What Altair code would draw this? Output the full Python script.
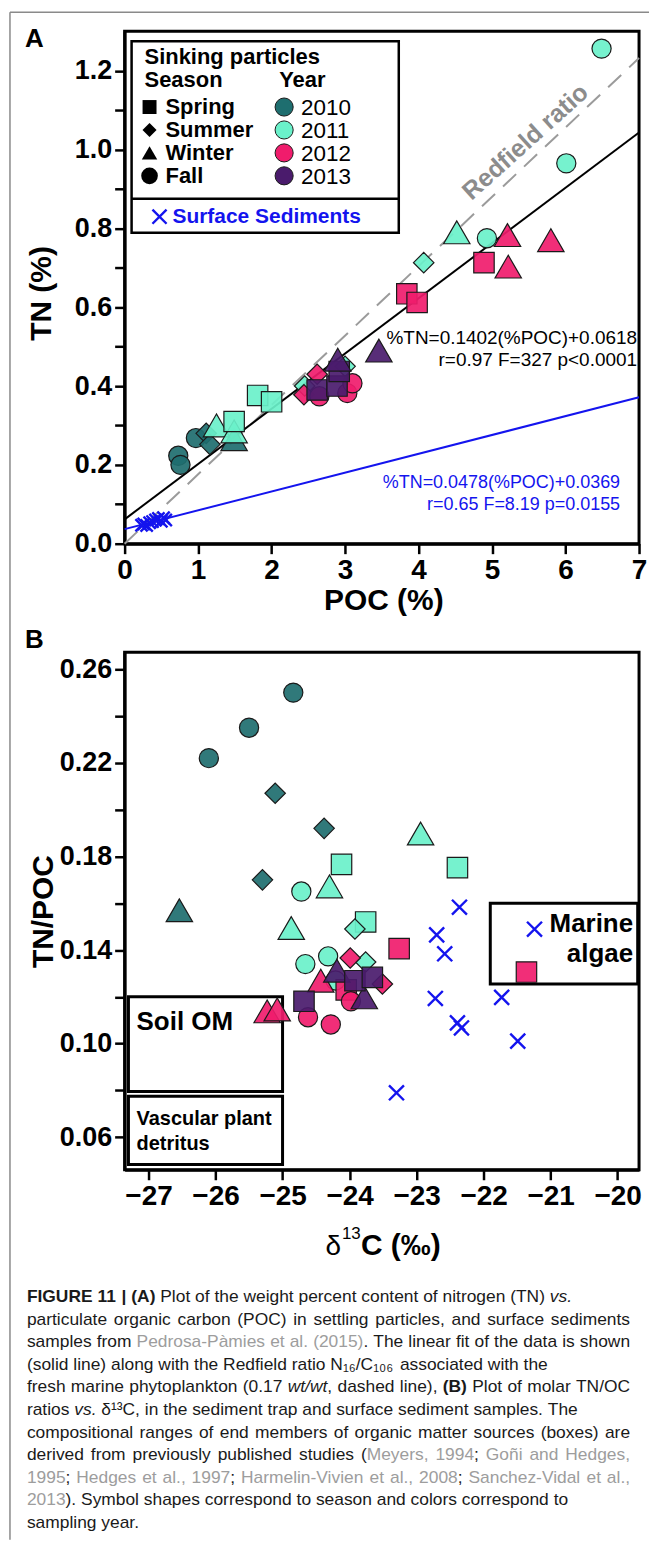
import re
import altair as alt
import pandas as pd

FONT = "Liberation Sans"

# ---------------- shared categories / styles ----------------
YEARS = ["2010", "2011", "2012", "2013"]
SEASONS = ["Spring", "Summer", "Winter", "Fall"]
YEAR_COLORS = ["#1e6e6f", "#6af1ca", "#f01c6c", "#4a1b6c"]
SEASON_SHAPES = ["square", "diamond", "triangle-up", "circle"]
SED_BLUE = "#1414ee"
X_PATH = "M-1,-1L1,1M-1,1L1,-1"
SIZE_EXPR = "datum.season == 'Winter' ? 700 : (datum.season == 'Fall' ? 370 : 420)"

# ---------------- Panel A : POC (%) vs TN (%) ----------------
A_2010_SEASON = ["Fall", "Fall", "Fall", "Summer", "Summer", "Winter"]
A_2010_POC = [0.73, 0.76, 0.97, 1.11, 1.16, 1.49]
A_2010_TN = [0.223, 0.200, 0.268, 0.280, 0.252, 0.265]

A_2011_SEASON = ["Winter", "Winter", "Spring", "Spring", "Spring", "Summer",
                 "Summer", "Summer", "Winter", "Fall", "Fall", "Fall"]
A_2011_POC = [1.25, 1.49, 1.49, 1.81, 2.00, 2.45, 3.00, 4.07, 4.52, 4.93, 6.01, 6.49]
A_2011_TN = [0.300, 0.285, 0.310, 0.376, 0.360, 0.400, 0.450, 0.713, 0.790, 0.775, 0.965, 1.256]

A_2012_SEASON = ["Summer", "Summer", "Fall", "Fall", "Fall", "Spring", "Spring",
                 "Spring", "Winter", "Winter", "Winter"]
A_2012_POC = [2.44, 2.62, 2.65, 3.03, 3.10, 3.84, 3.98, 4.89, 5.22, 5.21, 5.80]
A_2012_TN = [0.378, 0.430, 0.374, 0.382, 0.407, 0.634, 0.612, 0.713, 0.703, 0.783, 0.770]

A_2013_SEASON = ["Spring", "Spring", "Spring", "Winter", "Winter"]
A_2013_POC = [2.62, 2.89, 2.92, 2.90, 3.46]
A_2013_TN = [0.390, 0.400, 0.437, 0.467, 0.490]

A_SED_POC = [0.23, 0.26, 0.30, 0.34, 0.38, 0.42, 0.46, 0.50, 0.53, 0.56]
A_SED_TN = [0.047, 0.050, 0.046, 0.053, 0.056, 0.060, 0.064, 0.057, 0.066, 0.060]

FIT_POC_RANGE = [0, 7]
SINK_SLOPE, SINK_INTERCEPT = 0.1402, 0.0618
SED_SLOPE, SED_INTERCEPT = 0.0478, 0.0369
REDFIELD_SLOPE = 0.176

A_X_TICKS = [0, 1, 2, 3, 4, 5, 6, 7]
A_Y_TICKS = [0.0, 0.1, 0.2, 0.3, 0.4, 0.5, 0.6, 0.7, 0.8, 0.9, 1.0, 1.1, 1.2]

# ---------------- Panel B : d13C vs TN/POC ----------------
B_2010_SEASON = ["Fall", "Fall", "Fall", "Summer", "Summer", "Summer", "Winter"]
B_2010_D13C = [-24.84, -25.50, -26.10, -25.11, -24.38, -25.30, -26.54]
B_2010_TNPOC = [0.250, 0.235, 0.222, 0.207, 0.192, 0.170, 0.157]

B_2011_SEASON = ["Spring", "Spring", "Spring", "Fall", "Fall", "Fall", "Fall",
                 "Winter", "Winter", "Winter", "Summer", "Summer"]
B_2011_D13C = [-24.12, -22.39, -23.76, -24.72, -24.66, -24.32, -24.21,
               -24.30, -24.87, -22.94, -23.92, -23.76]
B_2011_TNPOC = [0.1766, 0.1752, 0.1520, 0.1650, 0.1340, 0.1373, 0.1270,
                0.1672, 0.1494, 0.1898, 0.1490, 0.1349]

B_2012_SEASON = ["Spring", "Spring", "Spring", "Summer", "Summer", "Winter",
                 "Winter", "Winter", "Fall", "Fall", "Fall"]
B_2012_D13C = [-23.26, -21.36, -24.05, -23.99, -23.51, -24.43, -25.23, -25.08,
               -23.98, -24.62, -24.28]
B_2012_TNPOC = [0.1406, 0.1306, 0.1230, 0.1366, 0.1255, 0.1269, 0.1138, 0.1146,
                0.1181, 0.1113, 0.1082]

B_2013_SEASON = ["Winter", "Winter", "Spring", "Spring", "Spring"]
B_2013_D13C = [-24.19, -23.78, -23.92, -23.66, -24.68]
B_2013_TNPOC = [0.1312, 0.1198, 0.1269, 0.1283, 0.1181]

B_SED_D13C = [-22.36, -22.70, -22.58, -21.24, -22.72, -21.73, -22.39, -22.33, -21.49, -23.30]
B_SED_TNPOC = [0.1583, 0.1465, 0.1384, 0.1489, 0.1193, 0.1198, 0.1089, 0.1067, 0.1011, 0.0790]

BOX_NAMES = ["Soil OM", "Vascular plant detritus", "Marine algae"]
BOX_D13C_MIN = [-27.30, -27.30, -21.90]
BOX_D13C_MAX = [-25.00, -25.00, -19.70]
BOX_TNPOC_MIN = [0.0795, 0.0484, 0.1255]
BOX_TNPOC_MAX = [0.1200, 0.0775, 0.1600]

B_X_TICKS = [-27, -26, -25, -24, -23, -22, -21, -20]
B_Y_TICKS = [0.06, 0.08, 0.10, 0.12, 0.14, 0.16, 0.18, 0.20, 0.22, 0.24, 0.26]

# ---------------- caption ----------------
CAPTION = [
    ([("FIGURE 11 | (A)", "b"), (" Plot of the weight percent content of nitrogen (TN) ", "r"), ("vs.", "i")], False),
    ([("particulate organic carbon (POC) in settling particles, and surface sediments", "r")], True),
    ([("samples from ", "r"), ("Pedrosa-Pàmies et al. (2015)", "g"), (". The linear fit of the data is shown", "r")], True),
    ([("(solid line) along with the Redfield ratio N₁₆/C₁₀₆ associated with the", "r")], False),
    ([("fresh marine phytoplankton (0.17 ", "r"), ("wt/wt", "i"), (", dashed line), ", "r"), ("(B)", "b"),
      (" Plot of molar TN/OC", "r")], True),
    ([("ratios ", "r"), ("vs.", "i"), (" δ¹³C, in the sediment trap and surface sediment samples. The", "r")], False),
    ([("compositional ranges of end members of organic matter sources (boxes) are", "r")], True),
    ([("derived from previously published studies (", "r"), ("Meyers, 1994", "g"), ("; ", "r"),
      ("Goñi and Hedges,", "g")], True),
    ([("1995", "g"), ("; ", "r"), ("Hedges et al., 1997", "g"), ("; ", "r"), ("Harmelin-Vivien et al., 2008", "g"),
      ("; ", "r"), ("Sanchez-Vidal et al.,", "g")], True),
    ([("2013", "g"), ("). Symbol shapes correspond to season and colors correspond to", "r")], False),
    ([("sampling year.", "r")], False),
]

# ================= helpers =================
ONE = pd.DataFrame({"k": [0]})


def pts(year, seasons, xs, ys, xn, yn):
    return pd.DataFrame({xn: xs, yn: ys, "season": seasons, "year": year})


def axis(values, fmt, size, label_expr=None):
    kw = dict(values=values, format=fmt, title=None, grid=False, labelFont=FONT, labelFontSize=size,
              labelFontWeight="bold", labelColor="black", labelPadding=3, labelFlush=False,
              labelOverlap=False, tickSize=10, tickWidth=2.5, tickColor="black",
              domainColor="black", domainWidth=3)
    if label_expr:
        kw["labelExpr"] = label_expr
    return alt.Axis(**kw)


def text(t, x, y, size, bold=False, color="black", align="left", baseline="middle", angle=None,
         italic=False):
    kw = dict(text=t, font=FONT, fontSize=size, fontWeight="bold" if bold else "normal",
              color=color, align=align, baseline=baseline)
    if angle is not None:
        kw["angle"] = angle
    if italic:
        kw["fontStyle"] = "italic"
    return alt.Chart(ONE).mark_text(**kw).encode(x=alt.value(x), y=alt.value(y))


def marker(shape, x, y, size, fill, stroke=None, sw=1.0):
    kw = dict(shape=shape, filled=True, fill=fill, size=size, opacity=1)
    if stroke:
        kw.update(stroke=stroke, strokeWidth=sw)
    return alt.Chart(ONE).mark_point(**kw).encode(x=alt.value(x), y=alt.value(y))


def hrule(x1, x2, y, color, sw):
    return alt.Chart(ONE).mark_rule(color=color, strokeWidth=sw).encode(
        x=alt.value(x1), x2=alt.value(x2), y=alt.value(y))


def vrule(x, y1, y2, color, sw):
    return alt.Chart(ONE).mark_rule(color=color, strokeWidth=sw).encode(
        x=alt.value(x), y=alt.value(y1), y2=alt.value(y2))


color_enc = alt.Color("year:N", scale=alt.Scale(domain=YEARS, range=YEAR_COLORS), legend=None)
shape_enc = alt.Shape("season:N", scale=alt.Scale(domain=SEASONS, range=SEASON_SHAPES), legend=None)

# ================= Panel A =================
SC_AX = alt.Scale(domain=[0, 7], nice=False, zero=False)
SC_AY = alt.Scale(domain=[0, 1.3], nice=False, zero=False)
AX_AX = axis(A_X_TICKS, "d", 28)
AX_AY = axis(A_Y_TICKS, ".1f", 27, "round(datum.value*10) % 2 == 0 ? datum.label : ''")


def xA(f="POC"):
    return alt.X(f"{f}:Q", scale=SC_AX, axis=AX_AX)


def yA(f="TN"):
    return alt.Y(f"{f}:Q", scale=SC_AY, axis=AX_AY)


dfA = pd.concat([
    pts("2010", A_2010_SEASON, A_2010_POC, A_2010_TN, "POC", "TN"),
    pts("2011", A_2011_SEASON, A_2011_POC, A_2011_TN, "POC", "TN"),
    pts("2012", A_2012_SEASON, A_2012_POC, A_2012_TN, "POC", "TN"),
    pts("2013", A_2013_SEASON, A_2013_POC, A_2013_TN, "POC", "TN"),
], ignore_index=True)
dfA_sed = pd.DataFrame({"POC": A_SED_POC, "TN": A_SED_TN})
line_df = pd.DataFrame({"POC": FIT_POC_RANGE})

redfield = alt.Chart(line_df).transform_calculate(TN=f"{REDFIELD_SLOPE}*datum.POC").mark_line(
    color="#9b9b9b", strokeWidth=2, strokeDash=[18, 11]).encode(x=xA(), y=yA())
fit_sink = alt.Chart(line_df).transform_calculate(TN=f"{SINK_SLOPE}*datum.POC+{SINK_INTERCEPT}").mark_line(
    color="black", strokeWidth=2).encode(x=xA(), y=yA())
fit_sed = alt.Chart(line_df).transform_calculate(TN=f"{SED_SLOPE}*datum.POC+{SED_INTERCEPT}").mark_line(
    color=SED_BLUE, strokeWidth=2).encode(x=xA(), y=yA())
sed_A = alt.Chart(dfA_sed).mark_point(shape=X_PATH, filled=False, color=SED_BLUE, strokeWidth=2.4,
                                      size=150, opacity=1).encode(x=xA(), y=yA())
pts_A = alt.Chart(dfA).transform_calculate(sz=SIZE_EXPR).mark_point(
    filled=True, stroke="#1a1a1a", strokeWidth=1.2, fillOpacity=0.92, opacity=1).encode(
    x=xA(), y=yA(), color=color_enc, shape=shape_enc, size=alt.Size("sz:Q", scale=None))

legend_layers = [
    alt.Chart(ONE).mark_rect(fill="white", stroke="black", strokeWidth=2.5).encode(
        x=alt.value(7), x2=alt.value(275), y=alt.value(10), y2=alt.value(202)),
    hrule(7, 275, 168, "black", 2.5),
    text("Sinking particles", 20, 26, 22, bold=True),
    text("Season", 20, 49, 22, bold=True),
    text("Year", 155, 49, 22, bold=True),
]
leg_y = [76, 99, 122, 145]
leg_season_sizes = [196, 200, 240, 280]
for i, s in enumerate(SEASONS):
    legend_layers.append(marker(SEASON_SHAPES[i], 25, leg_y[i], leg_season_sizes[i], "black"))
    legend_layers.append(text(s, 41, leg_y[i], 22, bold=True))
for i, yr in enumerate(YEARS):
    legend_layers.append(marker("circle", 160, leg_y[i], 330, YEAR_COLORS[i], stroke="#1a1a1a", sw=1))
    legend_layers.append(text(yr, 177, leg_y[i] + 1, 22.5))
legend_layers.append(alt.Chart(ONE).mark_point(shape=X_PATH, filled=False, color=SED_BLUE, strokeWidth=2.4,
                                               size=200, opacity=1).encode(x=alt.value(35), y=alt.value(186)))
legend_layers.append(text("Surface Sediments", 48, 186, 21, bold=True, color=SED_BLUE))

annot_A = [
    text("A", -100, 16, 26, bold=True, baseline="alphabetic"),
    text("TN (%)", -83, 263, 30, bold=True, align="center", angle=270),
    text("POC (%)", 260, 571, 30, bold=True, align="center"),
    text("Redfield ratio", 402, 111, 25, bold=True, color="#8c8c8c", align="center", angle=318),
    text("%TN=0.1402(%POC)+0.0618", 514, 308, 19, align="right"),
    text("r=0.97 F=327 p<0.0001", 514, 330, 19, align="right"),
    text("%TN=0.0478(%POC)+0.0369", 497, 453, 18, align="right", color=SED_BLUE),
    text("r=0.65 F=8.19 p=0.0155", 497, 475, 18, align="right", color=SED_BLUE),
]

frame_lines = [
    vrule(-115, -19, 1513, "#8a8a8a", 1.5),
    hrule(-115, 526, -19, "#8a8a8a", 1.5),
]

panelA = alt.layer(
    *frame_lines, *legend_layers[:2], redfield, fit_sink, fit_sed, sed_A, pts_A,
    *legend_layers[2:], *annot_A,
).properties(width=516, height=514, view=alt.ViewBackground(stroke="black", strokeWidth=3))

# ================= Panel B =================
SC_BX = alt.Scale(domain=[-27.357, -19.68], nice=False, zero=False)
SC_BY = alt.Scale(domain=[0.0461, 0.2672], nice=False, zero=False)
AX_BX = axis(B_X_TICKS, "d", 28)
AX_BY = axis(B_Y_TICKS, ".2f", 27, "round(datum.value*100) % 4 == 2 ? datum.label : ''")


def xB(f="d13C"):
    return alt.X(f"{f}:Q", scale=SC_BX, axis=AX_BX)


def yB(f="TNPOC"):
    return alt.Y(f"{f}:Q", scale=SC_BY, axis=AX_BY)


dfB = pd.concat([
    pts("2010", B_2010_SEASON, B_2010_D13C, B_2010_TNPOC, "d13C", "TNPOC"),
    pts("2011", B_2011_SEASON, B_2011_D13C, B_2011_TNPOC, "d13C", "TNPOC"),
    pts("2012", B_2012_SEASON, B_2012_D13C, B_2012_TNPOC, "d13C", "TNPOC"),
    pts("2013", B_2013_SEASON, B_2013_D13C, B_2013_TNPOC, "d13C", "TNPOC"),
], ignore_index=True)
dfB_sed = pd.DataFrame({"d13C": B_SED_D13C, "TNPOC": B_SED_TNPOC})
df_box = pd.DataFrame({"name": BOX_NAMES, "x1": BOX_D13C_MIN, "x2": BOX_D13C_MAX,
                       "y1": BOX_TNPOC_MIN, "y2": BOX_TNPOC_MAX})

boxes = alt.Chart(df_box).mark_rect(fillOpacity=0, stroke="black", strokeWidth=3).encode(
    x=xB("x1"), x2="x2:Q", y=yB("y1"), y2="y2:Q")
sed_B = alt.Chart(dfB_sed).mark_point(shape=X_PATH, filled=False, color=SED_BLUE, strokeWidth=2.4,
                                      size=225, opacity=1).encode(x=xB(), y=yB())
pts_B = alt.Chart(dfB).transform_calculate(sz=SIZE_EXPR).mark_point(
    filled=True, stroke="#1a1a1a", strokeWidth=1.2, fillOpacity=0.92, opacity=1).encode(
    x=xB(), y=yB(), color=color_enc, shape=shape_enc, size=alt.Size("sz:Q", scale=None))

annot_B = [
    text("B", -100, -4, 26, bold=True, baseline="alphabetic"),
    text("TN/POC", -81, 260, 30, bold=True, align="center", angle=270),
    text("δ", 217, 604, 28, align="right", baseline="alphabetic"),
    text("13", 218, 588, 17, baseline="alphabetic"),
    text("C (‰)", 237, 604, 30, bold=True, baseline="alphabetic"),
    text("Soil OM", 12, 371, 26, bold=True),
    text("Vascular plant", 12, 468, 20, bold=True),
    text("detritus", 12, 493, 20, bold=True),
    text("Marine", 510, 272, 26, bold=True, align="right"),
    text("algae", 510, 303, 26, bold=True, align="right"),
]

panelB = alt.layer(boxes, sed_B, pts_B, *annot_B).properties(
    width=516, height=519, view=alt.ViewBackground(stroke="black", strokeWidth=3))

# ================= Caption =================
REG_W, BOLD_W = {}, {}
for w, chars in [(222, "ijl"), (260, "|"), (278, " !,./:;I[]ft"), (333, "-()r`¹³"),
                 (400, "₀₁₂₃₄₅₆₇₈₉"), (500, "cksvxyzJ"), (556, "0123456789abdeghnopqu?$_Làñδ"),
                 (584, "+=<>"), (611, "FTZ"), (667, "ABEKPSVXY"), (722, "CDHNRUw"), (778, "GOQ"),
                 (833, "Mm"), (889, "%"), (944, "W"), (1000, "‰")]:
    for ch in chars:
        REG_W[ch] = w
for w, chars in [(278, " ,./:;Iijl"), (280, "|"), (333, "()-!ft"), (389, "r"), (500, "z"),
                 (556, "0123456789acekvsxy"), (611, "bdghnopquFTLZ?"), (667, "ESXYPV"),
                 (722, "ABCDHNRUK"), (778, "GOQw"), (833, "M"), (889, "m%"), (944, "W")]:
    for ch in chars:
        BOLD_W[ch] = w


def tw(s, style):
    table = BOLD_W if style == "b" else REG_W
    return sum(table.get(c, 556) for c in s) / 1000.0


CAP_LEFT, CAP_RIGHT = 25 - 123, 630 - 123
CAP_TOP, CAP_STEP = 1297 - 1278, 22.6
W = CAP_RIGHT - CAP_LEFT
naturals = [sum(tw(t, s) for t, s in runs) for runs, _ in CAPTION]
FS = min(17.6, min(W / n for n in naturals) * 0.995)

rows = []
for li, (runs, justify) in enumerate(CAPTION):
    n_sp = sum(t.count(" ") for t, _ in runs)
    extra = (W - naturals[li] * FS) / n_sp if (justify and n_sp) else 0.0
    x = CAP_LEFT
    for t, st in runs:
        for tok in re.split("( )", t):
            if tok == "":
                continue
            if tok == " ":
                x += tw(" ", st) * FS + extra
            else:
                rows.append({"x": x, "y": CAP_TOP + li * CAP_STEP, "w": tok, "style": st})
                x += tw(tok, st) * FS
cap_df = pd.DataFrame(rows)

cap_layers = []
for st, kw in [("r", {"color": "#1a1a1a"}), ("g", {"color": "#9d9d9d"}),
               ("i", {"color": "#1a1a1a", "fontStyle": "italic"}),
               ("b", {"color": "#1a1a1a", "fontWeight": "bold"})]:
    cap_layers.append(
        alt.Chart(cap_df).transform_filter(alt.datum.style == st).mark_text(
            align="left", baseline="middle", font=FONT, fontSize=FS, **kw).encode(
            x=alt.X("x:Q", scale=None, axis=None), y=alt.Y("y:Q", scale=None, axis=None), text="w:N"))
caption = alt.layer(*cap_layers).properties(width=516, height=250)

chart = alt.vconcat(panelA, panelB, caption, spacing=109, bounds="flush").properties(
    padding={"left": 7, "top": 7, "right": 0, "bottom": 0}
).configure_view(stroke="transparent")

chart.save("out.html", embed_options={"renderer": "svg", "actions": False})
